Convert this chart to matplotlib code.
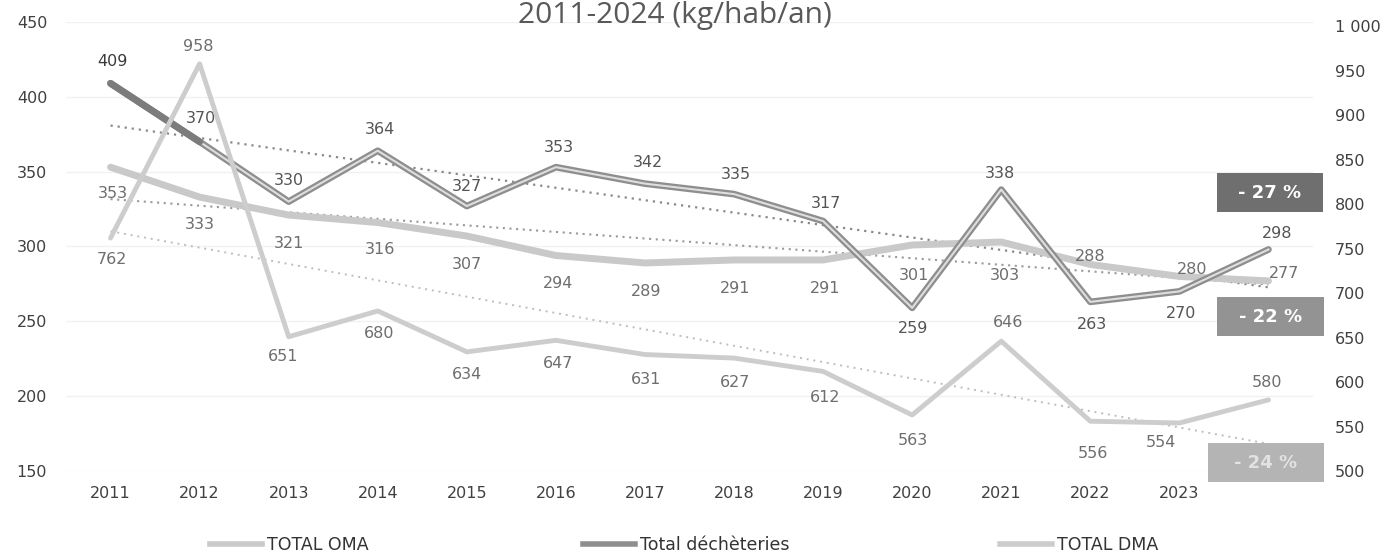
import matplotlib
matplotlib.use("Agg")
import matplotlib.pyplot as plt
from matplotlib.patches import Rectangle
from matplotlib.lines import Line2D
import numpy as np

# ---------------- data ----------------
years = [2011, 2012, 2013, 2014, 2015, 2016, 2017, 2018, 2019, 2020, 2021, 2022, 2023, 2024]
year_labels = ["2011", "2012", "2013", "2014", "2015", "2016", "2017", "2018", "2019",
               "2020", "2021", "2022", "2023", ""]
total_oma = [353, 333, 321, 316, 307, 294, 289, 291, 291, 301, 303, 288, 280, 277]
total_decheteries = [409, 370, 330, 364, 327, 353, 342, 335, 317, 259, 338, 263, 270, 298]
total_dma = [762, 958, 651, 680, 634, 647, 631, 627, 612, 563, 646, 556, 554, 580]
left_ticks = [150, 200, 250, 300, 350, 400, 450]
right_ticks = [500, 550, 600, 650, 700, 750, 800, 850, 900, 950, 1000]
variations = ["- 27 %", "- 22 %", "- 24 %"]
title = "2011-2024 (kg/hab/an)"

# ---------------- label offsets (pixels, +y = downwards on screen) ----------------
oma_off = [(2, 26), (0, 27), (0, 28), (2, 27), (0, 28), (2, 28), (1, 29), (1, 29), (2, 29),
           (2, 30), (4, 33), (0, -8), (13, -7), (16, -7)]
dech_off = [(2, -22), (1, -23), (0, -21), (2, -21), (0, -20), (3, -20), (3, -21), (2, -20),
            (3, -18), (1, 21), (-1, -16), (2, 23), (2, 22), (9, -16)]
dma_off = [(1, 21), (-1, -17), (-6, 20), (1, 23), (0, 23), (2, 23), (1, 25), (1, 24), (2, 26),
           (1, 26), (7, -19), (3, 32), (-18, 20), (-1, -17)]

W, H = 1387, 556
fig = plt.figure(figsize=(W / 100, H / 100), dpi=100)
ax_l, ax_r_px, ax_t, ax_b = 66, 1313, 22, 471
ax = fig.add_axes([ax_l / W, (H - ax_b) / H, (ax_r_px - ax_l) / W, (ax_b - ax_t) / H])
ax2 = ax.twinx()

x = np.arange(len(years))

for a in (ax, ax2):
    for s in a.spines.values():
        s.set_visible(False)
    a.tick_params(length=0)

ax.set_xlim(-0.5, len(years) - 0.5)
ax.set_ylim(150, 450)
ax2.set_ylim(504, 1005)
ax.set_yticks(left_ticks)
ax.set_yticklabels([str(v) for v in left_ticks])
ax2.set_yticks(right_ticks)
ax2.set_yticklabels([f"{v:,}".replace(",", " ") for v in right_ticks])
ax.set_xticks(x)
ax.set_xticklabels(year_labels)
ax.tick_params(axis="y", pad=13.5, labelsize=11.5, labelcolor="#404040")
ax.tick_params(axis="x", pad=11, labelsize=11.5, labelcolor="#404040")
ax2.tick_params(axis="y", pad=16, labelsize=11.5, labelcolor="#404040")
ax.grid(axis="y", color="#f1f1f1", lw=1)
ax.set_axisbelow(True)

# trend lines (linear fits, as the spreadsheet's trendlines)
def trend(vals):
    p = np.polyfit(x, vals, 1)
    return np.polyval(p, x)

ax.plot(x, trend(total_decheteries), ls=(0, (1, 2.2)), color="#8a8a8a", lw=1.6, zorder=2)
ax.plot(x, trend(total_oma), ls=(0, (1, 2.2)), color="#9a9a9a", lw=1.5, zorder=2)
ax2.plot(x, trend(total_dma), ls=(0, (1, 2.5)), color="#bdbdbd", lw=1.4, zorder=2)

# series
ax2.plot(x, total_dma, color="#cdcdcd", lw=3.5, solid_capstyle="round", zorder=3)
ax.plot(x, total_oma, color="#c9c9c9", lw=5, solid_capstyle="round", zorder=3)
ax.plot(x, total_decheteries, color="#8e8e8e", lw=4.8, solid_capstyle="round", zorder=4)
ax.plot(x[1:], total_decheteries[1:], color="#dedede", lw=1.5, zorder=5)
ax.plot(x[:2], total_decheteries[:2], color="#7c7c7c", lw=5, solid_capstyle="round", zorder=5)

# data labels
def lab(axis, vals, offs, colors):
    for i, v in enumerate(vals):
        dx, dy = offs[i]
        axis.annotate(str(v), (x[i], v), xytext=(dx, -dy), textcoords="offset pixels",
                      ha="center", va="center", fontsize=11.5, color=colors[i], zorder=6)

lab(ax, total_oma, oma_off, ["#6e6e6e"] * len(total_oma))
lab(ax, total_decheteries, dech_off, ["#3a3a3a"] + ["#555555"] * (len(total_decheteries) - 1))
lab(ax2, total_dma, dma_off, ["#6e6e6e"] * len(total_dma))

# title
fig.text(675 / W, 1 - 23 / H, title, ha="center", va="baseline", fontsize=21.5,
         family="Open Sans", color="#595959")

# variation boxes
boxes = [(1217, 173, 1323, 212, "#6f6f6f", "white"),
         (1217, 297, 1324, 336, "#939393", "white"),
         (1208, 443, 1324, 482, "#b4b4b4", "#e2e2e2")]
for (x0, y0, x1, y1, fc, tc), txt in zip(boxes, variations):
    fig.patches.append(Rectangle((x0 / W, 1 - y1 / H), (x1 - x0) / W, (y1 - y0) / H,
                                 transform=fig.transFigure, facecolor=fc, edgecolor="none",
                                 zorder=10))
    fig.text((x0 + x1) / 2 / W, 1 - (y0 + y1) / 2 / H, txt, ha="center", va="center",
             fontsize=13, fontweight="bold", color=tc, zorder=11)

# legend (three entries placed like the reference)
entries = [("TOTAL OMA", "#c9c9c9", 210), ("Total déchèteries", "#8e8e8e", 583),
           ("TOTAL DMA", "#cdcdcd", 1000)]
for txt, col, xpos in entries:
    h = Line2D([], [], color=col, lw=4)
    fig.legend([h], [txt], loc="center left", bbox_to_anchor=(xpos / W, 1 - 545 / H),
               frameon=False, borderpad=0, borderaxespad=0, handlelength=3.0,
               handletextpad=0.3, prop={"size": 12.5}, labelcolor="#333333")

fig.savefig("out.png", dpi=100)
